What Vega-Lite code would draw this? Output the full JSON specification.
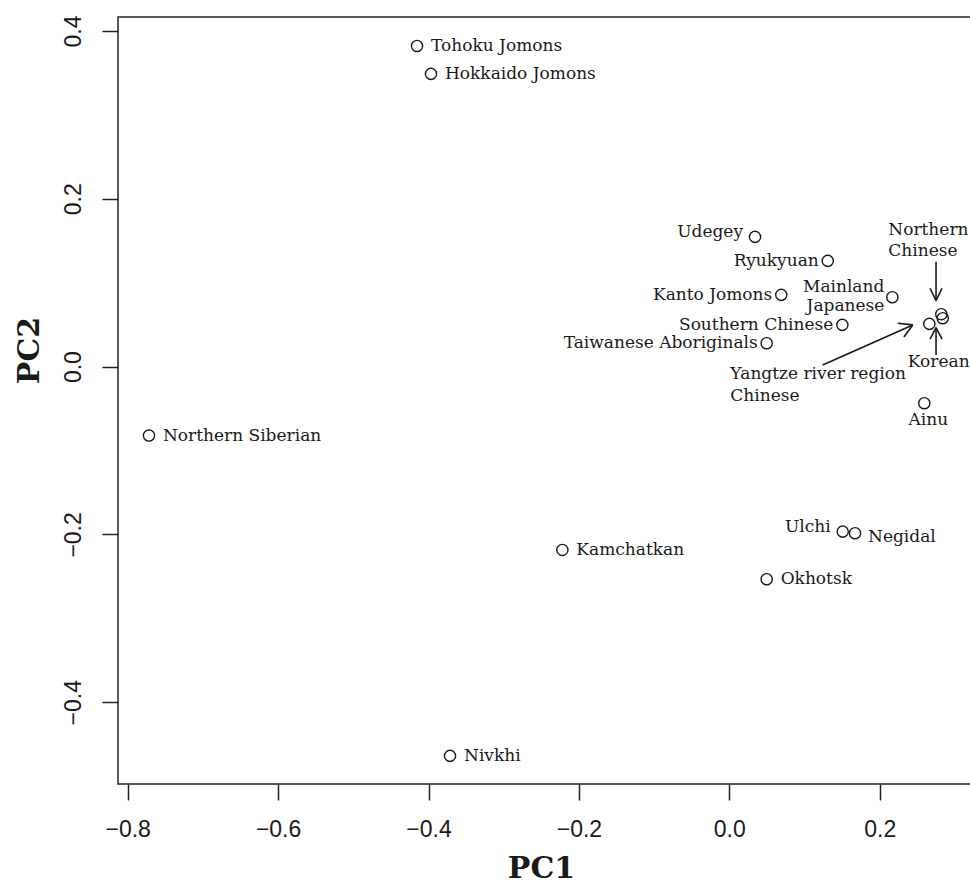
{
  "$schema": "https://vega.github.io/schema/vega-lite/v6.json",
  "autosize": {"type": "none"},
  "padding": {"left": 118, "top": 17, "right": 0, "bottom": 106},
  "width": 860,
  "height": 767,
  "background": "white",
  "config": {
    "view": {"stroke": "#222", "strokeWidth": 1.5},
    "axis": {
      "domain": false,
      "grid": false,
      "tickColor": "#222",
      "tickWidth": 1.5,
      "tickSize": 16,
      "labelFont": "Liberation Sans",
      "labelFontSize": 23,
      "labelColor": "#1a1a1a",
      "titleFont": "DejaVu Serif",
      "titleFontWeight": "bold",
      "titleFontSize": 30,
      "titleColor": "#1a1a1a"
    }
  },
  "datasets": {
    "points": [
      {"population": "Tohoku Jomons", "label": "Tohoku Jomons", "PC1": -0.4153, "PC2": 0.3822},
      {"population": "Hokkaido Jomons", "label": "Hokkaido Jomons", "PC1": -0.3967, "PC2": 0.3489},
      {"population": "Udegey", "label": "Udegey", "PC1": 0.0342, "PC2": 0.1546},
      {"population": "Ryukyuan", "label": "Ryukyuan", "PC1": 0.1309, "PC2": 0.126},
      {"population": "Kanto Jomons", "label": "Kanto Jomons", "PC1": 0.0691, "PC2": 0.0855},
      {"population": "Mainland Japanese", "label": "Mainland\nJapanese", "PC1": 0.2168, "PC2": 0.0827},
      {"population": "Southern Chinese", "label": "Southern Chinese", "PC1": 0.1503, "PC2": 0.0497},
      {"population": "Taiwanese Aboriginals", "label": "Taiwanese Aboriginals", "PC1": 0.0497, "PC2": 0.0279},
      {"population": "Yangtze river region Chinese", "label": "Yangtze river region\nChinese", "PC1": 0.266, "PC2": 0.0509},
      {"population": "Northern Chinese", "label": "Northern\nChinese", "PC1": 0.2819, "PC2": 0.0625},
      {"population": "Korean", "label": "Korean", "PC1": 0.2838, "PC2": 0.0577},
      {"population": "Ainu", "label": "Ainu", "PC1": 0.2593, "PC2": -0.0436},
      {"population": "Northern Siberian", "label": "Northern Siberian", "PC1": -0.7717, "PC2": -0.0822},
      {"population": "Kamchatkan", "label": "Kamchatkan", "PC1": -0.222, "PC2": -0.2185},
      {"population": "Ulchi", "label": "Ulchi", "PC1": 0.1508, "PC2": -0.1967},
      {"population": "Negidal", "label": "Negidal", "PC1": 0.1672, "PC2": -0.1986},
      {"population": "Okhotsk", "label": "Okhotsk", "PC1": 0.0497, "PC2": -0.2534},
      {"population": "Nivkhi", "label": "Nivkhi", "PC1": -0.3714, "PC2": -0.464}
    ],
    "arrows": [
      {"arrow": "Northern Chinese", "part": "shaft", "x": 0.2749, "y": 0.1251, "x2": 0.2749, "y2": 0.0787},
      {"arrow": "Northern Chinese", "part": "head1", "x": 0.2669, "y": 0.0934, "x2": 0.2749, "y2": 0.0787},
      {"arrow": "Northern Chinese", "part": "head2", "x": 0.2829, "y": 0.0934, "x2": 0.2749, "y2": 0.0787},
      {"arrow": "Korean", "part": "shaft", "x": 0.2749, "y": 0.0139, "x2": 0.2749, "y2": 0.0465},
      {"arrow": "Korean", "part": "head1", "x": 0.2669, "y": 0.0327, "x2": 0.2749, "y2": 0.0465},
      {"arrow": "Korean", "part": "head2", "x": 0.2829, "y": 0.0327, "x2": 0.2749, "y2": 0.0465},
      {"arrow": "Yangtze river region Chinese", "part": "shaft", "x": 0.1242, "y": 0.002, "x2": 0.2439, "y2": 0.0497},
      {"arrow": "Yangtze river region Chinese", "part": "head1", "x": 0.2241, "y": 0.0516, "x2": 0.2439, "y2": 0.0497},
      {"arrow": "Yangtze river region Chinese", "part": "head2", "x": 0.2322, "y": 0.0353, "x2": 0.2439, "y2": 0.0497}
    ]
  },
  "encoding": {
    "x": {
      "field": "PC1", "type": "quantitative",
      "scale": {"domain": [-0.8129, 0.3307], "nice": false, "zero": false},
      "axis": {"title": "PC1", "values": [-0.8, -0.6, -0.4, -0.2, 0, 0.2], "format": ".1f", "labelPadding": 18, "titleX": 423, "titleY": 93, "titleBaseline": "alphabetic", "titleAnchor": null}
    },
    "y": {
      "field": "PC2", "type": "quantitative",
      "scale": {"domain": [-0.4975, 0.4167], "nice": false, "zero": false},
      "axis": {"title": "PC2", "values": [-0.4, -0.2, 0, 0.2, 0.4], "format": ".1f", "labelAngle": 270, "labelAlign": "center", "labelBaseline": "alphabetic", "labelPadding": 22, "titleAngle": 270, "titleX": -80, "titleY": 333, "titleBaseline": "alphabetic", "titleAlign": "center"}
    }
  },
  "layer": [
    {
      "data": {"name": "arrows"},
      "mark": {"type": "rule", "color": "#1a1a1a", "strokeWidth": 1.6},
      "encoding": {
        "x": {"field": "x", "type": "quantitative"},
        "y": {"field": "y", "type": "quantitative"},
        "x2": {"field": "x2"},
        "y2": {"field": "y2"}
      }
    },
    {
      "data": {"name": "points"},
      "mark": {"type": "point", "shape": "circle", "filled": false, "stroke": "#1a1a1a", "strokeWidth": 1.4, "size": 125, "opacity": 1}
    },
    {
      "data": {"name": "points"},
      "transform": [{"filter": {"field": "population", "oneOf": ["Tohoku Jomons", "Hokkaido Jomons", "Northern Siberian", "Kamchatkan", "Okhotsk", "Nivkhi"]}}],
      "mark": {"type": "text", "align": "left", "baseline": "middle", "dx": 14, "font": "DejaVu Serif", "fontSize": 17, "color": "#1a1a1a"},
      "encoding": {"text": {"field": "label"}}
    },
    {
      "data": {"name": "points"},
      "transform": [{"filter": {"field": "population", "equal": "Negidal"}}],
      "mark": {"type": "text", "align": "left", "baseline": "middle", "dx": 13, "dy": 4, "font": "DejaVu Serif", "fontSize": 17, "color": "#1a1a1a"},
      "encoding": {"text": {"field": "label"}}
    },
    {
      "data": {"name": "points"},
      "transform": [{"filter": {"field": "population", "oneOf": ["Ryukyuan", "Kanto Jomons", "Southern Chinese", "Taiwanese Aboriginals"]}}],
      "mark": {"type": "text", "align": "right", "baseline": "middle", "dx": -9, "font": "DejaVu Serif", "fontSize": 17, "color": "#1a1a1a"},
      "encoding": {"text": {"field": "label"}}
    },
    {
      "data": {"name": "points"},
      "transform": [{"filter": {"field": "population", "oneOf": ["Udegey", "Ulchi"]}}],
      "mark": {"type": "text", "align": "right", "baseline": "middle", "dx": -12, "dy": -5, "font": "DejaVu Serif", "fontSize": 17, "color": "#1a1a1a"},
      "encoding": {"text": {"field": "label"}}
    },
    {
      "data": {"name": "points"},
      "transform": [{"filter": {"field": "population", "equal": "Mainland Japanese"}}],
      "mark": {"type": "text", "align": "right", "baseline": "middle", "dx": -8, "dy": -10, "lineBreak": "\n", "lineHeight": 19, "font": "DejaVu Serif", "fontSize": 17, "color": "#1a1a1a"},
      "encoding": {"text": {"field": "label"}}
    },
    {
      "data": {"name": "points"},
      "transform": [{"filter": {"field": "population", "equal": "Northern Chinese"}}],
      "mark": {"type": "text", "align": "left", "baseline": "middle", "dx": -53, "dy": -84, "lineBreak": "\n", "lineHeight": 21, "font": "DejaVu Serif", "fontSize": 17, "color": "#1a1a1a"},
      "encoding": {"text": {"field": "label"}}
    },
    {
      "data": {"name": "points"},
      "transform": [{"filter": {"field": "population", "equal": "Yangtze river region Chinese"}}],
      "mark": {"type": "text", "align": "left", "baseline": "middle", "dx": -199, "dy": 50, "lineBreak": "\n", "lineHeight": 22, "font": "DejaVu Serif", "fontSize": 17, "color": "#1a1a1a"},
      "encoding": {"text": {"field": "label"}}
    },
    {
      "data": {"name": "points"},
      "transform": [{"filter": {"field": "population", "equal": "Korean"}}],
      "mark": {"type": "text", "align": "center", "baseline": "middle", "dx": -4, "dy": 44, "font": "DejaVu Serif", "fontSize": 17, "color": "#1a1a1a"},
      "encoding": {"text": {"field": "label"}}
    },
    {
      "data": {"name": "points"},
      "transform": [{"filter": {"field": "population", "equal": "Ainu"}}],
      "mark": {"type": "text", "align": "center", "baseline": "middle", "dx": 4, "dy": 17, "font": "DejaVu Serif", "fontSize": 17, "color": "#1a1a1a"},
      "encoding": {"text": {"field": "label"}}
    }
  ]
}
